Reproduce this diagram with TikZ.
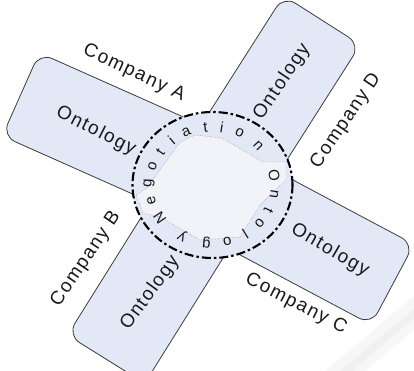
\documentclass[tikz,border=0pt]{standalone}
\usepackage{fontspec}
\setmainfont{Liberation Sans}
\newfontfamily\spacedfont[LetterSpace=8]{Liberation Sans}
\usetikzlibrary{shapes.geometric}
\definecolor{armfill}{RGB}{226,232,245}
\definecolor{innerfill}{RGB}{241,243,248}
\definecolor{armline}{RGB}{60,60,60}
\definecolor{txt}{RGB}{25,25,25}
\begin{document}
\begin{tikzpicture}[x=1pt,y=-1pt,
  arm/.style={draw=armline, line width=0.8pt, fill=armfill, rounded corners=14pt,
    minimum height=91pt, inner sep=0pt, anchor=west},
  lab/.style={font=\spacedfont\fontsize{19}{22}\selectfont, text=txt, inner sep=0pt},
  ringletter/.style={font=\fontsize{15}{17}\selectfont, text=txt, inner sep=0pt},
  ringshape/.style={ellipse, draw=black, fill=armfill, line width=2.1pt,
    dash pattern=on 9pt off 3pt on 2.5pt off 3pt,
    minimum width=160pt, minimum height=146pt, inner sep=0pt},
  innershape/.style={densely dotted, draw=gray, line width=0.4pt, fill=innerfill},
  curl/.style={draw=none}]
\useasboundingbox (0,0) rectangle (414,371);
\fill[white] (0,0) rectangle (414,371);
% page curl shadow
\fill[gray!6, curl] (325,371) -- (414,296) -- (414,330) -- (365,371) -- cycle;
\fill[gray!12, curl] (340,371) -- (414,309) -- (414,318) -- (352,371) -- cycle;
% arms
\node[arm, minimum width=210pt, rotate=156] (armA) at (213,180) {};
\node[arm, minimum width=195pt, rotate=57.5] (armD) at (217,185) {};
\node[arm, minimum width=205pt, rotate=238] (armB) at (215,185) {};
\node[arm, minimum width=203pt, rotate=-28] (armC) at (213,189) {};
% central ring
\node[ringshape] (ring) at (212.5,185) {};
\draw[innershape] (180,142) -- (147,188) -- (136,195) -- (143,213) -- (160,217)
  -- (200,240) -- (240,237) -- (260,205) -- (286,180) -- (286,162) -- (263,162)
  -- (222,138) -- (195,135) -- cycle;
% ring text
\foreach \ch/\ang [count=\i, evaluate=\ang as \rot using \ang-90] in
  {N/214, e/196, g/178, o/161, t/145, i/130, a/114, t/96, i/81, o/64, n/43,
   O/9, n/-9, t/-26, o/-41, l/-58, o/-76, g/-95, y/-118}
  \node[ringletter, rotate=\rot] (r\i) at ({212+63*cos(\ang)}, {185-58*sin(\ang)}) {\ch};
% labels
\node[lab, rotate=-25] (compA) at (134,73) {Company A};
\node[lab, rotate=56] (compD) at (346,121) {Company D};
\node[lab, rotate=56] (compB) at (86,259) {Company B};
\node[lab, rotate=-27] (compC) at (296,304) {Company C};
\node[lab, rotate=-27] (ontA) at (96,131) {Ontology};
\node[lab, rotate=56] (ontD) at (282,82) {Ontology};
\node[lab, rotate=54] (ontB) at (150,293) {Ontology};
\node[lab, rotate=-30] (ontC) at (330,250) {Ontology};
\end{tikzpicture}
\end{document}
